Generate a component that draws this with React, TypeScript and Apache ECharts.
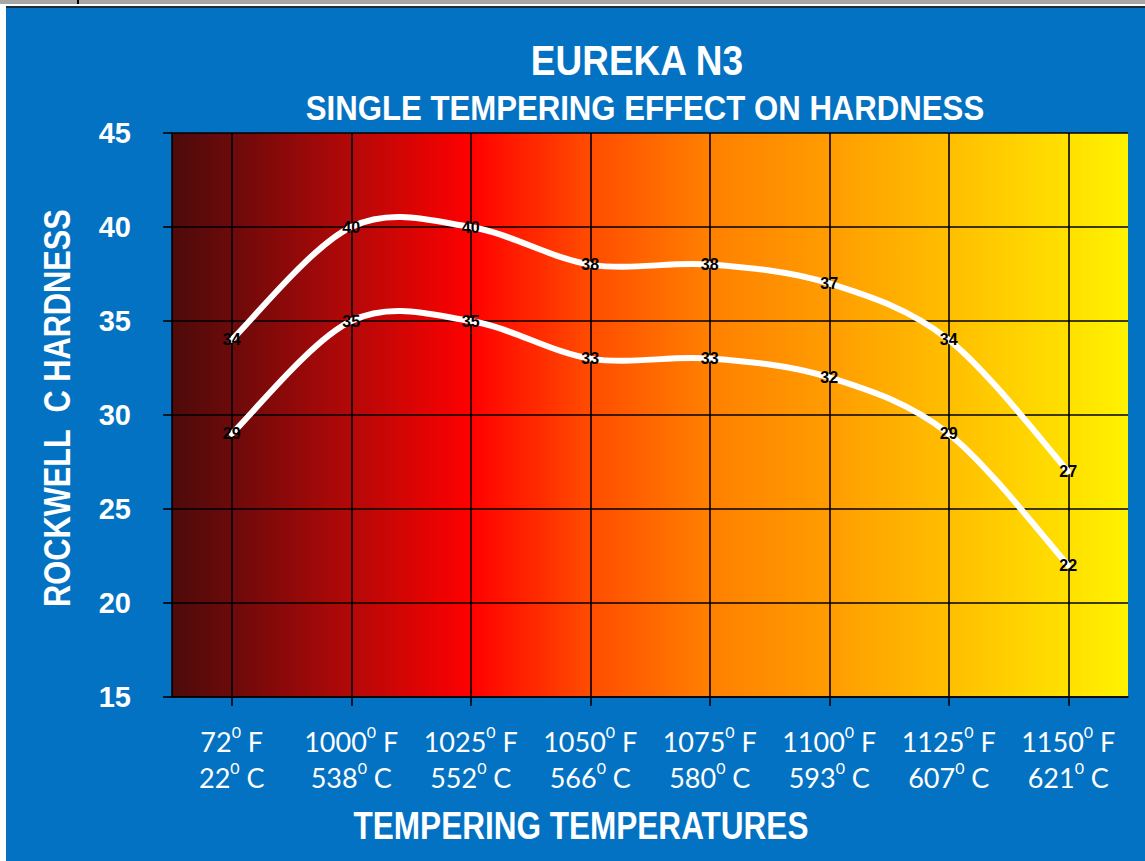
import React, { useEffect, useRef } from 'react';
import * as echarts from 'echarts';

const tempF = ['72', '1000', '1025', '1050', '1075', '1100', '1125', '1150'];
const tempC = ['22', '538', '552', '566', '580', '593', '607', '621'];
const upperHardness = [34, 40, 40, 38, 38, 37, 34, 27];
const lowerHardness = [29, 35, 35, 33, 33, 32, 29, 22];
const yMin = 15;
const yMax = 45;
const yStep = 5;
const titleText = 'EUREKA N3';
const subtitleText = 'SINGLE TEMPERING EFFECT ON HARDNESS';
const xAxisTitle = 'TEMPERING TEMPERATURES';
const yAxisTitle = 'ROCKWELL  C HARDNESS';

export default function App() {
  const ref = useRef<HTMLDivElement>(null);
  useEffect(() => {
    document.body.style.margin = '0';
    const chart = echarts.init(ref.current!, null, { renderer: 'svg' });
    const categories = tempF.map((f, i) => `${f}{s|0} F\n${tempC[i]}{s|0} C`);
    const arial = '"Liberation Sans", Arial, sans-serif';
    const bg = new echarts.graphic.LinearGradient(0, 0, 1, 0, [
      { offset: 0, color: '#4d0a0a' },
      { offset: 0.063, color: '#6c0a0a' },
      { offset: 0.188, color: '#b40808' },
      { offset: 0.313, color: '#ff0000' },
      { offset: 0.437, color: '#ff4c00' },
      { offset: 0.562, color: '#ff8000' },
      { offset: 0.687, color: '#ff9c00' },
      { offset: 0.812, color: '#ffbe00' },
      { offset: 0.937, color: '#ffe000' },
      { offset: 1, color: '#fff200' },
    ]);

    // Excel-style smoothed curve: one cubic Bezier per segment (Catmull-Rom, tension 1/6)
    const curveSeries = (values: number[]) => ({
      type: 'custom',
      z: 2,
      silent: true,
      data: values.map((v, i) => [i, v]),
      encode: { x: 0, y: 1 },
      renderItem: (params: any, api: any) => {
        const i = params.dataIndex;
        if (i >= values.length - 1) return null;
        const pts = values.map((v, k) => api.coord([k, v]));
        const p0 = pts[Math.max(i - 1, 0)];
        const p1 = pts[i];
        const p2 = pts[i + 1];
        const p3 = pts[Math.min(i + 2, pts.length - 1)];
        const t = 1 / 6;
        return {
          type: 'bezierCurve',
          shape: {
            x1: p1[0],
            y1: p1[1],
            cpx1: p1[0] + (p2[0] - p0[0]) * t,
            cpy1: p1[1] + (p2[1] - p0[1]) * t,
            cpx2: p2[0] - (p3[0] - p1[0]) * t,
            cpy2: p2[1] - (p3[1] - p1[1]) * t,
            x2: p2[0],
            y2: p2[1],
          },
          style: { stroke: '#ffffff', lineWidth: 6, fill: 'none', lineCap: 'round' },
        };
      },
    });

    const labelSeries = (data: number[], withMarks: boolean) => ({
      type: 'line',
      data,
      symbol: 'circle',
      symbolSize: 2,
      z: 4,
      itemStyle: { color: 'rgba(255,255,255,0)' },
      lineStyle: { opacity: 0, width: 0 },
      label: {
        show: true,
        position: 'inside',
        color: '#000000',
        fontSize: 16,
        fontWeight: 'bold',
        textBorderWidth: 0,
        fontFamily: arial,
      },
      markLine: withMarks
        ? {
            silent: true,
            z: 1,
            symbol: ['none', 'none'],
            label: { show: false },
            lineStyle: { color: '#000000', width: 1.6, type: 'solid' },
            data: tempF.map((_, i) => ({ xAxis: i })),
          }
        : undefined,
    });

    chart.setOption({
      animation: false,
      backgroundColor: '#0472c2',
      grid: {
        left: 172,
        right: 17,
        top: 133,
        bottom: 164,
        show: true,
        backgroundColor: bg,
        borderWidth: 0,
      },
      xAxis: {
        type: 'category',
        data: categories,
        boundaryGap: true,
        axisLine: { show: true, lineStyle: { color: '#000000', width: 1.6 } },
        axisTick: { show: true, alignWithLabel: true, length: 9, lineStyle: { color: '#000000', width: 1.6 } },
        splitLine: { show: false },
        axisLabel: {
          color: '#ffffff',
          fontSize: 27,
          lineHeight: 36,
          fontFamily: 'Lato, "Open Sans", sans-serif',
          margin: 26,
          interval: 0,
          rich: {
            s: {
              color: '#ffffff',
              fontSize: 16,
              lineHeight: 24,
              verticalAlign: 'top',
              fontFamily: 'Lato, "Open Sans", sans-serif',
            },
          },
        },
      },
      yAxis: {
        type: 'value',
        min: yMin,
        max: yMax,
        interval: yStep,
        axisLine: { show: true, lineStyle: { color: '#000000', width: 1.6 } },
        axisTick: { show: true, length: 9, lineStyle: { color: '#000000', width: 1.6 } },
        splitLine: { show: true, lineStyle: { color: '#000000', width: 1.6 } },
        axisLabel: {
          color: '#ffffff',
          fontSize: 29,
          fontWeight: 'bold',
          fontFamily: arial,
          margin: 41,
        },
      },
      series: [
        curveSeries(upperHardness),
        curveSeries(lowerHardness),
        labelSeries(upperHardness, true),
        labelSeries(lowerHardness, false),
      ],
      graphic: [
        { type: 'rect', z: 100, shape: { x: 0, y: 0, width: 6, height: 861 }, style: { fill: '#ffffff' } },
        { type: 'rect', z: 100, shape: { x: 0, y: 0, width: 1145, height: 4 }, style: { fill: '#a6a6a6' } },
        { type: 'rect', z: 100, shape: { x: 0, y: 4, width: 1145, height: 2 }, style: { fill: '#ffffff' } },
        { type: 'rect', z: 100, shape: { x: 6, y: 6, width: 1139, height: 2 }, style: { fill: '#1c2b38' } },
        { type: 'rect', z: 101, shape: { x: 77, y: 0, width: 2, height: 4 }, style: { fill: '#000000' } },
        {
          type: 'text', z: 100, x: 637, y: 60, scaleX: 0.86,
          style: { text: titleText, fill: '#ffffff', font: `bold 43px ${arial}`, textAlign: 'center', textVerticalAlign: 'middle' },
        },
        {
          type: 'text', z: 100, x: 645, y: 108, scaleX: 0.89,
          style: { text: subtitleText, fill: '#ffffff', font: `bold 35px ${arial}`, textAlign: 'center', textVerticalAlign: 'middle' },
        },
        {
          type: 'text', z: 100, x: 581, y: 825, scaleX: 0.83,
          style: { text: xAxisTitle, fill: '#ffffff', font: `bold 38px ${arial}`, textAlign: 'center', textVerticalAlign: 'middle' },
        },
        {
          type: 'text', z: 100, x: 58, y: 408, rotation: Math.PI / 2, scaleX: 0.855,
          style: { text: yAxisTitle, fill: '#ffffff', font: `bold 36px ${arial}`, textAlign: 'center', textVerticalAlign: 'middle' },
        },
      ],
    });
    return () => chart.dispose();
  }, []);
  return <div ref={ref} style={{ width: 1145, height: 861 }} />;
}
